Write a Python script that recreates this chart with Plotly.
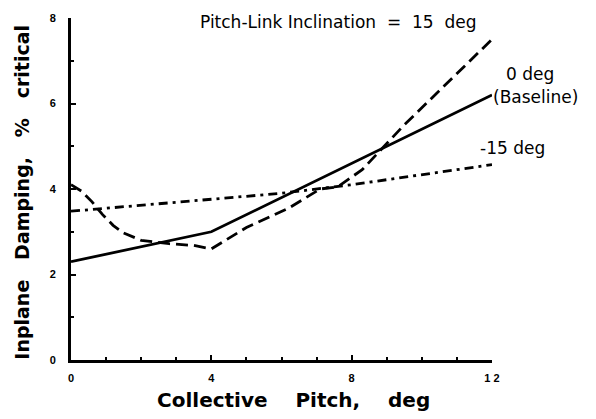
import plotly.graph_objects as go

# Data (Collective pitch, deg  vs  inplane damping, % critical)
x_base = [0, 4, 12]
y_base = [2.3, 3.0, 6.2]

x_p15 = [0, 0.3, 0.6, 0.9, 1.2, 1.5, 2.0, 2.8, 3.5, 4.0, 5.0, 6.2, 7.1, 7.6, 8.3, 9.5, 12.0]
y_p15 = [4.1, 3.95, 3.7, 3.4, 3.15, 2.97, 2.8, 2.72, 2.68, 2.6, 3.1, 3.55, 4.0, 4.05, 4.45, 5.5, 7.5]

x_m15 = [0, 4, 6, 8, 12]
y_m15 = [3.48, 3.75, 3.9, 4.1, 4.57]

x_ticks = [0, 4, 8, 12]
x_ticktext = ["0", "4", "8", "1 2"]
y_ticks = [0, 2, 4, 6, 8]
y_ticktext = ["0", "2", "4", "6", "8"]

NB = "\u00a0"

fig = go.Figure()
fig.add_trace(go.Scatter(x=x_base, y=y_base, mode="lines",
                         line=dict(color="black", width=2.8)))
fig.add_trace(go.Scatter(x=x_p15, y=y_p15, mode="lines",
                         line=dict(color="black", width=2.8, dash="12px,6px")))
fig.add_trace(go.Scatter(x=x_m15, y=y_m15, mode="lines",
                         line=dict(color="black", width=2.8, dash="9px,5px,3px,5px")))

# plot area in pixels: x 71..492, y 12..360.5
def px(xp):
    return (xp - 71) / 421.0

def py(yp):
    return (360.5 - yp) / 348.5

ann_font = dict(family="DejaVu Sans", size=17, color="black")
annotations = [
    dict(x=px(338), y=py(16), text="Pitch-Link Inclination" + NB * 2 + "=" + NB * 2 + "15" + NB * 2 + "deg"),
    dict(x=px(530), y=py(69), text="0 deg"),
    dict(x=px(535), y=py(93), text="(Baseline)"),
    dict(x=px(512), y=py(144), text="-15" + NB + "deg"),
]
for a in annotations:
    fig.add_annotation(xref="paper", yref="paper", showarrow=False, font=ann_font,
                       xanchor="center", yanchor="middle", **a)

title_font = dict(family="DejaVu Sans", size=20, color="black", weight="bold")
fig.add_annotation(xref="paper", yref="paper", x=px(293), y=py(401), showarrow=False,
                   text="Collective" + NB * 4 + "Pitch," + NB * 4 + "deg",
                   font=title_font, xanchor="center", yanchor="middle")
fig.add_annotation(xref="paper", yref="paper", x=px(22), y=py(190), showarrow=False,
                   text="Inplane" + NB * 3 + "Damping," + NB * 3 + "%" + NB * 3 + "critical",
                   textangle=-90, font=dict(family="DejaVu Sans", size=19, color="black", weight="bold"),
                   xanchor="center", yanchor="middle")

tickfont = dict(family="Liberation Sans", size=11, color="black", weight="bold")
fig.update_xaxes(range=[0, 12], tickvals=x_ticks, ticktext=x_ticktext,
                 showline=True, linewidth=3, linecolor="black", showgrid=False, zeroline=False,
                 ticks="inside", ticklen=5, tickwidth=2, tickcolor="black",
                 minor=dict(dtick=1, ticks="inside", ticklen=3, tickwidth=2, tickcolor="black", showgrid=False),
                 tickfont=tickfont, ticklabelstandoff=6)
fig.update_yaxes(range=[0, 8], tickvals=y_ticks, ticktext=y_ticktext,
                 showline=True, linewidth=3, linecolor="black", showgrid=False, zeroline=False,
                 ticks="inside", ticklen=5, tickwidth=2, tickcolor="black",
                 minor=dict(dtick=1, ticks="inside", ticklen=3, tickwidth=2, tickcolor="black", showgrid=False),
                 tickfont=tickfont, ticklabelstandoff=10)

fig.update_layout(width=596, height=419, showlegend=False,
                  margin=dict(l=71, r=104, t=12, b=58.5),
                  plot_bgcolor="white", paper_bgcolor="white")
fig.write_html("out.html")
